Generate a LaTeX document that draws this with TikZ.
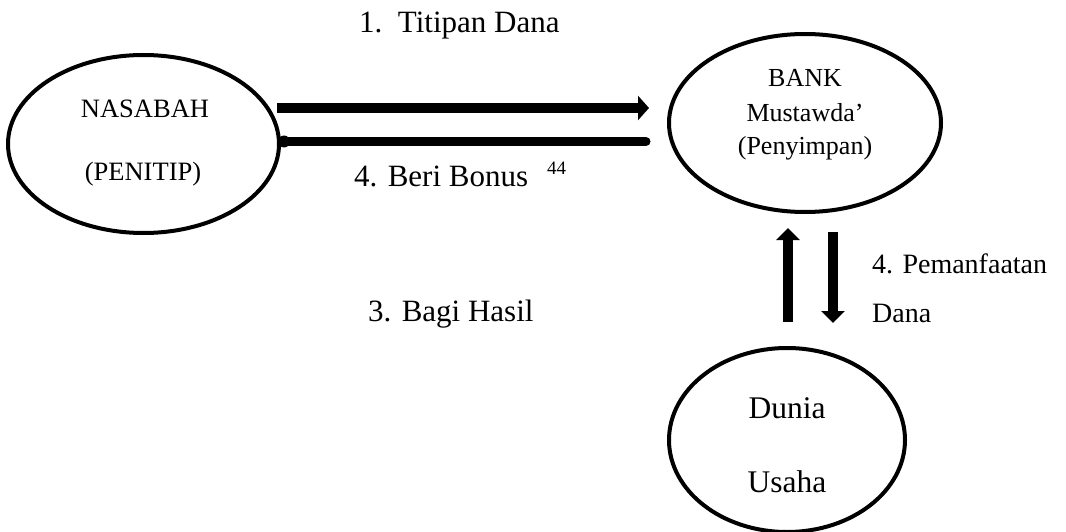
\documentclass[tikz,border=0pt]{standalone}
\usepackage{fontspec}
\setmainfont{Liberation Serif}
\newfontfamily\tnr{Liberation Serif}
\usetikzlibrary{arrows.meta,shapes.geometric}
\begin{document}
\begin{tikzpicture}[x=1pt,y=-1pt,
  oval/.style={draw,line width=4pt,ellipse,inner sep=0pt},
  txt/.style={inner sep=0pt,anchor=base},
  lbl/.style={font=\tnr\fontsize{31}{34}\selectfont,inner sep=0pt,anchor=base west},
  flow/.style={line width=10pt},
  vflow/.style={line width=10pt},
  head/.style={-{Triangle[length=12pt,width=23pt]}}]
\useasboundingbox (0,0) rectangle (1066,532);
\node[oval,minimum width=271pt,minimum height=178pt] (nas) at (143.5,144) {};
\node[oval,minimum width=272pt,minimum height=178pt] (bank) at (805,123) {};
\node[oval,minimum width=236pt,minimum height=184pt] (dunia) at (787,440) {};
\node[txt,font=\tnr\fontsize{26.5}{28}\selectfont] (t1) at (145,118) {NASABAH};
\node[txt,font=\tnr\fontsize{26.5}{28}\selectfont] (t2) at (143,180) {(PENITIP)};
\node[txt,font=\tnr\fontsize{26}{28}\selectfont] (b1) at (805,87) {BANK};
\node[txt,font=\tnr\fontsize{26}{28}\selectfont] (b2) at (805,122) {Mustawda’};
\node[txt,font=\tnr\fontsize{26}{28}\selectfont] (b3) at (805,155) {(Penyimpan)};
\node[txt,font=\tnr\fontsize{31.5}{34}\selectfont] (d1) at (787,418) {Dunia};
\node[txt,font=\tnr\fontsize{31.5}{34}\selectfont] (d2) at (787,492) {Usaha};
\coordinate (a1s) at (277,108);
\coordinate (a1e) at (649,108);
\coordinate (a2s) at (286,141.5);
\coordinate (a2e) at (646,141.5);
\draw[flow,-{Triangle[length=11pt,width=24pt]}] (a1s) -- (a1e);
\draw[line width=9pt,line cap=round] (a2e) -- (a2s);
\fill (284,141.5) circle (6pt);
\coordinate (u1) at (788,322);
\coordinate (u2) at (788,228);
\coordinate (v1) at (833,232);
\coordinate (v2) at (833,323);
\draw[vflow,head] (u1) -- (u2);
\draw[vflow,head] (v1) -- (v2);
\node[lbl] (l1) at (359,33) {1.\ \ Titipan Dana};
\node[lbl] (l2) at (354,186) {4. Beri Bonus};
\node[font=\tnr\fontsize{19}{21}\selectfont,inner sep=0pt,anchor=base west] (l2s) at (547,175) {44};
\node[lbl] (l3) at (368,321) {3. Bagi Hasil};
\node[lbl,font=\tnr\fontsize{28}{30}\selectfont] (l4) at (872,273) {4. Pemanfaatan};
\node[lbl,font=\tnr\fontsize{28}{30}\selectfont] (l5) at (872,322) {Dana};
\end{tikzpicture}
\end{document}
